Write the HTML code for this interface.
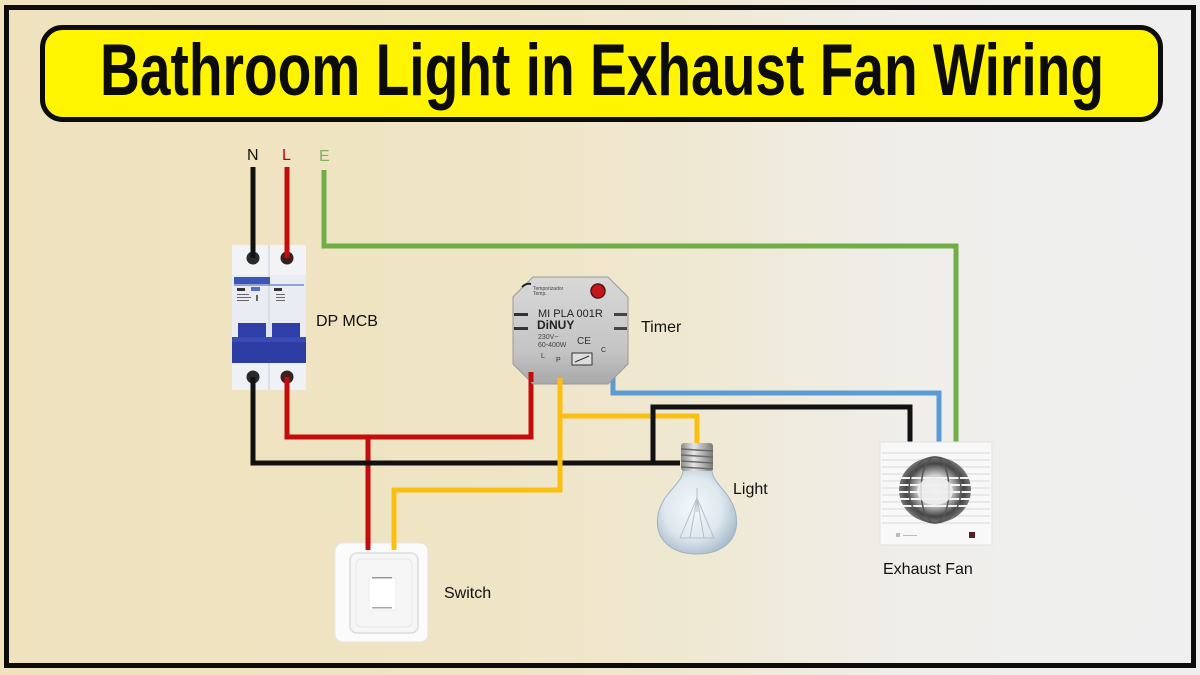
<!DOCTYPE html>
<html>
<head>
<meta charset="utf-8">
<style>
  html,body{margin:0;padding:0;width:1200px;height:675px;overflow:hidden;background:#efe9d6;}
  svg{display:block;}
  .lbl{font-family:"Liberation Sans",Arial,sans-serif;font-size:16px;fill:#111;}
</style>
</head>
<body>
<svg width="1200" height="675" viewBox="0 0 1200 675" xmlns="http://www.w3.org/2000/svg">
  <defs>
    <linearGradient id="bg" x1="0" y1="0" x2="1" y2="0">
      <stop offset="0" stop-color="#efe2bd"/>
      <stop offset="0.4" stop-color="#efe4c4"/>
      <stop offset="0.58" stop-color="#efe8d2"/>
      <stop offset="0.72" stop-color="#efede6"/>
      <stop offset="0.85" stop-color="#efefee"/>
      <stop offset="1" stop-color="#efefef"/>
    </linearGradient>
    <radialGradient id="glass" cx="0.45" cy="0.45" r="0.6">
      <stop offset="0" stop-color="#f4f8fb"/>
      <stop offset="0.6" stop-color="#dfe8ef"/>
      <stop offset="1" stop-color="#a9bccb"/>
    </radialGradient>
    <linearGradient id="timerg" x1="0" y1="0" x2="0" y2="1">
      <stop offset="0" stop-color="#d8d8d8"/>
      <stop offset="0.7" stop-color="#c4c4c4"/>
      <stop offset="1" stop-color="#a8a8a8"/>
    </linearGradient>
    <linearGradient id="baseg" x1="0" y1="0" x2="1" y2="0">
      <stop offset="0" stop-color="#8a8a8a"/>
      <stop offset="0.4" stop-color="#e6e6e6"/>
      <stop offset="1" stop-color="#7a7a7a"/>
    </linearGradient>
    <radialGradient id="fang" cx="0.5" cy="0.5" r="0.5">
      <stop offset="0" stop-color="#f2f2f2"/>
      <stop offset="0.45" stop-color="#d0d0d0"/>
      <stop offset="0.8" stop-color="#444"/>
      <stop offset="1" stop-color="#777"/>
    </radialGradient>
  </defs>

  <!-- background -->
  <rect x="0" y="0" width="1200" height="675" fill="url(#bg)"/>
  <rect x="6.5" y="7.5" width="1187" height="658" fill="none" stroke="#0c0c0c" stroke-width="5"/>

  <!-- title -->
  <rect x="42.5" y="27.5" width="1118" height="92" rx="20" ry="20" fill="#fff500" stroke="#0c0c0c" stroke-width="5"/>
  <text x="100" y="95" font-family="'Liberation Sans',Arial,sans-serif" font-weight="bold" font-size="73" fill="#0c0c0c" textLength="1004" lengthAdjust="spacingAndGlyphs">Bathroom Light in Exhaust Fan Wiring</text>

  <!-- N L E labels -->
  <text x="247" y="160" font-family="'Liberation Sans',Arial,sans-serif" font-size="16" fill="#111">N</text>
  <text x="282" y="160" font-family="'Liberation Sans',Arial,sans-serif" font-size="16" fill="#c00000">L</text>
  <text x="319" y="161" font-family="'Liberation Sans',Arial,sans-serif" font-size="16" fill="#7fb05e">E</text>

  <!-- wires -->
  <g fill="none" stroke-width="5" stroke-linejoin="miter" stroke-linecap="butt">
    <!-- green earth -->
    <path d="M324,170 V246 H956 V444" stroke="#6fae46"/>
    <!-- red -->
    <path d="M287,167 V257" stroke="#c40c0c"/>
    <path d="M287,377 V437 H531 V372" stroke="#c40c0c"/>
    <path d="M368,437 V548" stroke="#c40c0c"/>
    <!-- black -->
    <path d="M253,167 V257" stroke="#111"/>
    <path d="M253,377 V463 H680" stroke="#111"/>
    <!-- yellow -->
    <path d="M560,382 V490 H394 V548" stroke="#fbbf12"/>
    <path d="M560,416 H697 V446" stroke="#fbbf12"/>
    <!-- black to fan -->
    <path d="M653,463 V407 H910 V444" stroke="#111"/>
    <!-- blue -->
    <path d="M613,370 V393 H939 V444" stroke="#5b9bd5"/>
  </g>

  <!-- MCB -->
  <g>
    <rect x="232" y="245" width="74" height="145" fill="#e9edf3"/>
    <rect x="232" y="245" width="74" height="30" fill="#f1f3f7"/>
    <rect x="232" y="362" width="74" height="28" fill="#eef1f5"/>
    <line x1="269" y1="245" x2="269" y2="390" stroke="#c9ced6" stroke-width="1"/>
    <rect x="234" y="277" width="36" height="7" fill="#3b55b8"/>
    <line x1="234" y1="285" x2="304" y2="285" stroke="#3b55b8" stroke-width="1"/>
    <rect x="237" y="288" width="8" height="3" fill="#333"/>
    <rect x="251" y="287" width="9" height="4" fill="#5a6fc0"/>
    <rect x="274" y="288" width="8" height="3" fill="#333"/>
    <g fill="#666">
      <rect x="237" y="294" width="12" height="1"/>
      <rect x="237" y="297" width="14" height="1"/>
      <rect x="237" y="300" width="12" height="1"/>
      <rect x="256" y="295" width="2" height="6"/>
      <rect x="276" y="294" width="9" height="1"/>
      <rect x="276" y="297" width="9" height="1"/>
      <rect x="276" y="300" width="9" height="1"/>
    </g>
    <!-- toggles -->
    <rect x="238" y="323" width="28" height="16" fill="#2f3fa8"/>
    <rect x="272" y="323" width="28" height="16" fill="#2f3fa8"/>
    <rect x="266" y="323" width="6" height="16" fill="#dfe3ea"/>
    <rect x="232" y="337" width="74" height="26" fill="#2d3da4"/>
    <rect x="232" y="337" width="74" height="5" fill="#3a4bb6"/>
    <!-- terminals -->
    <circle cx="253" cy="258" r="6.5" fill="#2a2a2a"/>
    <circle cx="287" cy="258" r="6.5" fill="#3a2020"/>
    <circle cx="253" cy="377" r="6.5" fill="#2a2a2a"/>
    <circle cx="287" cy="377" r="6.5" fill="#3a2020"/>
    <rect x="250.5" y="245" width="5" height="13" fill="#111"/>
    <rect x="284.5" y="245" width="5" height="13" fill="#c40c0c"/>
    <rect x="250.5" y="377" width="5" height="13" fill="#111"/>
    <rect x="284.5" y="377" width="5" height="13" fill="#c40c0c"/>
  </g>
  <text class="lbl" x="316" y="326">DP MCB</text>

  <!-- Timer -->
  <g>
    <polygon points="533,277 608,277 628,297 628,364 608,384 533,384 513,364 513,297" fill="url(#timerg)" stroke="#9a9a9a" stroke-width="1"/>
    <circle cx="598" cy="291" r="7" fill="#c4161c" stroke="#5a1010" stroke-width="1.5"/>
    <text x="533" y="290" font-family="'Liberation Sans',Arial,sans-serif" font-size="5" fill="#444">Temporizador</text>
    <text x="533" y="295" font-family="'Liberation Sans',Arial,sans-serif" font-size="5" fill="#444">Temp.</text>
    <path d="M522,287 q4,-4 9,-3" stroke="#222" stroke-width="2" fill="none"/>
    <text x="538" y="317" font-family="'Liberation Sans',Arial,sans-serif" font-size="11" fill="#222">MI PLA 001R</text>
    <text x="537" y="329" font-family="'Liberation Sans',Arial,sans-serif" font-size="12" font-weight="bold" fill="#222">DiNUY</text>
    <text x="538" y="339" font-family="'Liberation Sans',Arial,sans-serif" font-size="7" fill="#444">230V~</text>
    <text x="538" y="347" font-family="'Liberation Sans',Arial,sans-serif" font-size="7" fill="#444">60-400W</text>
    <text x="577" y="344" font-family="'Liberation Sans',Arial,sans-serif" font-size="10" fill="#333">CE</text>
    <rect x="514" y="313" width="14" height="3" fill="#333"/>
    <rect x="514" y="327" width="14" height="3" fill="#333"/>
    <rect x="614" y="313" width="13" height="3" fill="#444"/>
    <rect x="614" y="327" width="13" height="3" fill="#444"/>
    <rect x="572" y="353" width="20" height="12" fill="#ddd" stroke="#333" stroke-width="1"/>
    <path d="M575,362 L589,356" stroke="#333" stroke-width="1"/>
    <text x="541" y="358" font-family="'Liberation Sans',Arial,sans-serif" font-size="7" fill="#333">L</text>
    <text x="556" y="362" font-family="'Liberation Sans',Arial,sans-serif" font-size="7" fill="#333">P</text>
    <text x="601" y="352" font-family="'Liberation Sans',Arial,sans-serif" font-size="7" fill="#333">C</text>
    <rect x="528.5" y="372" width="5" height="10" fill="#c40c0c"/>
    <rect x="557.5" y="378" width="5" height="8" fill="#fbbf12"/>
  </g>
  <text class="lbl" x="641" y="332">Timer</text>

  <!-- Light bulb -->
  <g>
    <path d="M683,470 C683,484 662,492 658,515 C654,540 672,554 697,554 C722,554 740,540 736,515 C732,492 712,484 712,470 Z" fill="url(#glass)" stroke="#9fb2c2" stroke-width="1"/>
    <rect x="681" y="443" width="32" height="28" rx="3" fill="url(#baseg)"/>
    <g stroke="#6a6a6a" stroke-width="1.5">
      <line x1="681" y1="449" x2="713" y2="451"/>
      <line x1="681" y1="455" x2="713" y2="457"/>
      <line x1="681" y1="461" x2="713" y2="463"/>
      <line x1="681" y1="467" x2="713" y2="469"/>
    </g>
    <path d="M697,488 V512 M697,498 L680,538 H714 Z M697,498 L690,538 M697,498 L704,538" stroke="#b5c0c8" stroke-width="1" fill="none"/>
  </g>
  <text class="lbl" x="733" y="494">Light</text>

  <!-- Exhaust Fan -->
  <g>
    <rect x="880" y="442" width="112" height="103" fill="#f8f8f8" stroke="#e2e2e2" stroke-width="1"/>
    <g stroke="#e3e3e3" stroke-width="1.5">
      <line x1="882" y1="453" x2="990" y2="453"/>
      <line x1="882" y1="460" x2="990" y2="460"/>
      <line x1="882" y1="467" x2="990" y2="467"/>
      <line x1="882" y1="474" x2="990" y2="474"/>
      <line x1="882" y1="481" x2="990" y2="481"/>
      <line x1="882" y1="488" x2="990" y2="488"/>
      <line x1="882" y1="495" x2="990" y2="495"/>
      <line x1="882" y1="502" x2="990" y2="502"/>
      <line x1="882" y1="509" x2="990" y2="509"/>
      <line x1="882" y1="516" x2="990" y2="516"/>
      <line x1="882" y1="523" x2="990" y2="523"/>
    </g>
    <ellipse cx="935" cy="490" rx="36" ry="33" fill="url(#fang)"/>
    <g stroke="#f4f4f4" stroke-width="2">
      <line x1="899" y1="478" x2="971" y2="478"/>
      <line x1="899" y1="485" x2="971" y2="485"/>
      <line x1="899" y1="492" x2="971" y2="492"/>
      <line x1="899" y1="499" x2="971" y2="499"/>
      <line x1="900" y1="506" x2="970" y2="506"/>
    </g>
    <ellipse cx="935" cy="490" rx="14" ry="33" fill="none" stroke="#555" stroke-width="1.5"/>
    <ellipse cx="935" cy="490" rx="26" ry="33" fill="none" stroke="#555" stroke-width="1.5"/>
    <ellipse cx="935" cy="491" rx="18" ry="14" fill="#efefef" opacity="0.85"/>
    <rect x="969" y="532" width="6" height="6" fill="#5a1c1c"/>
    <rect x="896" y="533" width="4" height="4" fill="#bbb"/>
    <rect x="903" y="535" width="14" height="1" fill="#bbb"/>
  </g>
  <text class="lbl" x="883" y="574">Exhaust Fan</text>

  <!-- Switch -->
  <g>
    <rect x="335" y="543" width="93" height="99" rx="8" fill="#fbfbfb" stroke="#e4e4e4" stroke-width="1"/>
    <rect x="350" y="553" width="68" height="80" rx="7" fill="#f6f6f6" stroke="#dcdcdc" stroke-width="1.5"/>
    <rect x="356" y="559" width="56" height="68" rx="5" fill="none" stroke="#e6e6e6" stroke-width="1"/>
    <rect x="369" y="578" width="27" height="32" rx="2" fill="#ffffff" stroke="#ececec" stroke-width="1"/>
    <rect x="372" y="577" width="20" height="1.5" fill="#999"/>
    <rect x="372" y="607" width="20" height="1.5" fill="#aaa"/>
    <rect x="365.5" y="540" width="5" height="10" fill="#c40c0c"/>
    <rect x="391.5" y="540" width="5" height="10" fill="#fbbf12"/>
  </g>
  <text class="lbl" x="444" y="598">Switch</text>
</svg>
</body>
</html>
